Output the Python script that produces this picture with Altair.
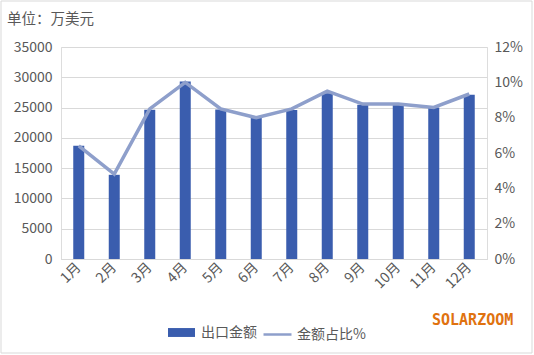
import altair as alt
import pandas as pd

months = ["1月", "2月", "3月", "4月", "5月", "6月", "7月", "8月", "9月", "10月", "11月", "12月"]
export_value = [18700, 13900, 24650, 29300, 24700, 23500, 24600, 27350, 25450, 25450, 25000, 27100]
share_pct = [6.4, 4.8, 8.5, 10.0, 8.5, 8.0, 8.5, 9.5, 8.77, 8.77, 8.58, 9.34]

df = pd.DataFrame({
    "month": months,
    "export": export_value,
    "share": [v / 100 for v in share_pct],
    "s1": "出口金额",
    "s2": "金额占比%",
})

FONT = "Noto Sans CJK SC"
GRAY = "#595959"
BLUE = "#3A5DAE"
LINE = "#8E9FCB"

x = alt.X("month:N", sort=months, title=None,
          axis=alt.Axis(labelAngle=-45, labelAlign="right", labelBaseline="middle",
                        labelPadding=6, ticks=False, domainColor="#D9D9D9",
                        labelFont=FONT, labelFontSize=14, labelColor=GRAY),
          scale=alt.Scale(paddingInner=0, paddingOuter=0))

base = alt.Chart(df)

bars = base.mark_bar(size=11).encode(
    x=x,
    y=alt.Y("export:Q", title=None,
            scale=alt.Scale(domain=[0, 35000]),
            axis=alt.Axis(values=[0, 5000, 10000, 15000, 20000, 25000, 30000, 35000],
                          format="d", domain=False, ticks=False, labelPadding=9,
                          gridColor="#D9D9D9", labelFont=FONT, labelFontSize=14,
                          labelColor=GRAY)),
    fill=alt.Fill("s1:N", scale=alt.Scale(domain=["出口金额"], range=[BLUE]),
                  legend=alt.Legend(title=None, orient="none", legendX=107, legendY=272,
                                    symbolType="M-1,-0.33L1,-0.33L1,0.33L-1,0.33Z",
                                    symbolSize=729, symbolStrokeWidth=0,
                                    labelFont=FONT, labelFontSize=14, labelColor=GRAY,
                                    padding=0, labelOffset=6)),
)

line = base.mark_line(strokeWidth=3.5).encode(
    x=x,
    y=alt.Y("share:Q", title=None,
            scale=alt.Scale(domain=[0, 0.12]),
            axis=alt.Axis(orient="right", values=[0, 0.02, 0.04, 0.06, 0.08, 0.10, 0.12],
                          format=".0%", domain=False, ticks=False, grid=False,
                          labelPadding=7, labelFont=FONT, labelFontSize=14,
                          labelColor=GRAY)),
    stroke=alt.Stroke("s2:N", scale=alt.Scale(domain=["金额占比%"], range=[LINE]),
                      legend=alt.Legend(title=None, orient="none", legendX=201, legendY=272,
                                        symbolType="stroke", symbolSize=784,
                                        symbolStrokeWidth=2.5,
                                        labelFont=FONT, labelFontSize=14, labelColor=GRAY,
                                        padding=0, labelOffset=4)),
)

mark_df = pd.DataFrame({"t": ["SOLARZOOM"], "title": ["单位：万美元"]})
watermark = alt.Chart(mark_df).mark_text(
    font="DejaVu Sans Mono", fontSize=15, color="#E0720F", align="left",
    baseline="middle", fontWeight="bold"
).encode(x=alt.value(371), y=alt.value(273), text="t:N")

title_txt = alt.Chart(mark_df).mark_text(
    font=FONT, fontSize=14.5, color=GRAY, align="left", baseline="middle"
).encode(x=alt.value(-54), y=alt.value(-27), text="title:N")

border = alt.Chart(mark_df).mark_rect(fill=None, stroke="#D9D9D9", strokeWidth=1).encode(
    x=alt.value(-60), x2=alt.value(471), y=alt.value(-46), y2=alt.value(306)
)

chart = alt.layer(border, bars, line, watermark, title_txt).resolve_scale(
    y="independent"
).properties(
    width=426, height=212,
    autosize=alt.AutoSizeParams(type="none"),
    padding={"left": 61, "top": 47, "right": 47, "bottom": 96},
).configure_view(stroke=None).configure(background="white")

chart.save("out.html", embed_options={"renderer": "svg", "actions": False})
